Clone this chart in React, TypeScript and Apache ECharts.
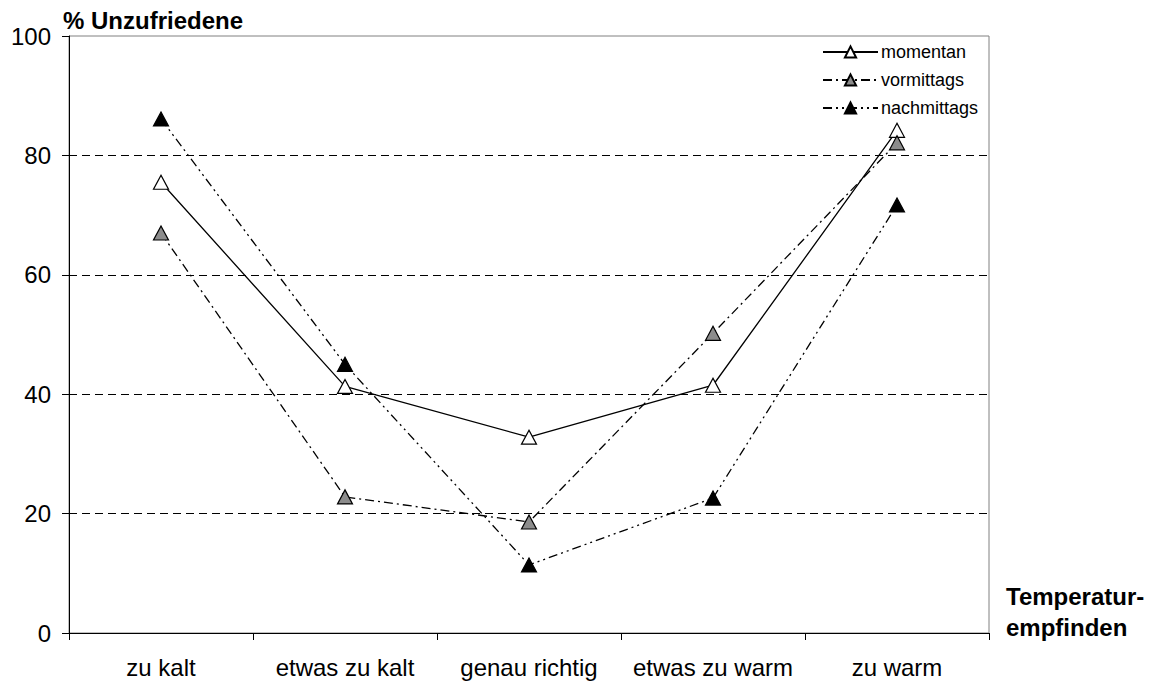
import React, { useEffect, useRef } from "react";
import * as echarts from "echarts";

const categories = ["zu kalt", "etwas zu kalt", "genau richtig", "etwas zu warm", "zu warm"];
const momentan = [75.5, 41.3, 32.8, 41.5, 84.2];
const vormittags = [67.0, 22.8, 18.6, 50.2, 82.1];
const nachmittags = [86.1, 45.0, 11.4, 22.6, 71.7];
const yTicks = { min: 0, max: 100, interval: 20 };

const FONT = "Liberation Sans, Arial, sans-serif";

export default function App() {
  const ref = useRef<HTMLDivElement>(null);
  useEffect(() => {
    if (!ref.current) return;
    const chart = echarts.init(ref.current, undefined, { renderer: "svg" });
    const mk = (name: string, data: number[], fill: string, dash: any) => ({
      name,
      type: "line",
      data,
      symbol: "triangle",
      symbolSize: [15, 14],
      itemStyle: { color: fill, borderColor: "#000", borderWidth: 1.2 },
      lineStyle: { color: "#000", width: 1.3, type: dash },
      emphasis: { disabled: true },
      z: 3,
    });
    chart.setOption({
      animation: false,
      textStyle: { fontFamily: FONT },
      grid: {
        left: 69,
        right: 169,
        top: 36,
        bottom: 51,
        show: true,
        borderColor: "#808080",
        borderWidth: 1,
      },
      legend: {
        orient: "vertical",
        left: 822,
        top: 43,
        padding: 0,
        itemWidth: 55,
        itemHeight: 14,
        itemGap: 10,
        textStyle: { fontSize: 18, lineHeight: 18, color: "#000", fontFamily: FONT, padding: [0, 0, 0, -2] },
        data: ["momentan", "vormittags", "nachmittags"],
      },
      xAxis: {
        type: "category",
        data: categories,
        boundaryGap: true,
        axisLine: { lineStyle: { color: "#000", width: 1 } },
        axisTick: { show: true, interval: 0, length: 7, lineStyle: { color: "#000" } },
        axisLabel: { fontSize: 24, color: "#000", margin: 22, fontFamily: FONT, interval: 0 },
        splitLine: { show: false },
      },
      yAxis: {
        type: "value",
        min: yTicks.min,
        max: yTicks.max,
        interval: yTicks.interval,
        axisLine: { show: true, lineStyle: { color: "#000", width: 1 } },
        axisTick: { show: true, length: 7, lineStyle: { color: "#000" } },
        axisLabel: { fontSize: 24, color: "#000", margin: 18, fontFamily: FONT },
        splitLine: {
          show: true,
          lineStyle: {
            color: ["#000", "#000", "#000", "#000", "#000", "transparent"],
            type: [8, 5],
            width: 1,
          },
        },
      },
      graphic: [
        {
          type: "text",
          x: 63,
          y: 20,
          style: {
            text: "% Unzufriedene",
            font: `bold 24px ${FONT}`,
            fill: "#000",
            verticalAlign: "middle",
          },
        },
        {
          type: "text",
          x: 1006,
          y: 581,
          style: {
            text: "Temperatur-\nempfinden",
            font: `bold 24px ${FONT}`,
            fill: "#000",
            lineHeight: 31,
            verticalAlign: "top",
          },
        },
      ],
      series: [
        mk("momentan", momentan, "#fff", "solid"),
        mk("vormittags", vormittags, "#8c8c8c", [9, 4, 2, 4]),
        mk("nachmittags", nachmittags, "#000", [9, 4, 2, 4, 2, 4]),
      ],
    });
    return () => chart.dispose();
  }, []);
  return (
    <div
      ref={ref}
      style={{ position: "absolute", left: 0, top: 0, width: 1158, height: 684 }}
    />
  );
}
